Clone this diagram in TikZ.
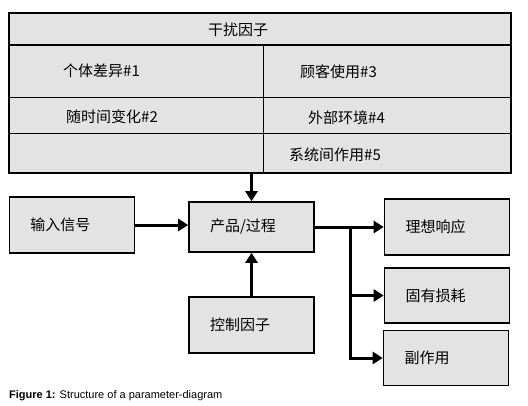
\documentclass[tikz,border=0pt]{standalone}
\usepackage{fontspec}
\setmainfont{Liberation Sans}
\newfontfamily\cjk{Noto Sans CJK SC}
\usetikzlibrary{arrows.meta,positioning,calc}

\begin{document}
\begin{tikzpicture}[x=1pt,y=-1pt,
      every node/.style={font=\cjk\fontsize{15}{17}\selectfont},
      blk/.style={draw,line width=1.6pt,fill=black!11,inner xsep=21pt,inner ysep=0pt,
        text width=83pt,align=left,minimum height=55pt},
      cell/.style={anchor=west,inner sep=0pt},
      arr/.style={-{Triangle[length=10pt,width=12pt]},line width=3pt}
    ]
      \useasboundingbox (0,0) rectangle (528,405);
      % noise factors
      \node[draw,line width=1.8pt,fill=black!11,minimum width=502pt,minimum height=160pt,inner sep=0pt] (noise) at (260,93) {};
      \draw[line width=2.4pt] (9,45) -- (511,45);
      \draw[line width=0.9pt] (263,45) -- (263,173);
      \draw[line width=0.9pt] (9,97) -- (511,97);
      \draw[line width=0.9pt] (9,133) -- (511,133);
      \node[cell] (title) at (208,30) {干扰因子};
      \node[cell] (n1) at (63,71) {个体差异\#1};
      \node[cell] (n2) at (66,117) {随时间变化\#2};
      \node[cell] (n3) at (300,72) {顾客使用\#3};
      \node[cell] (n4) at (308,118) {外部环境\#4};
      \node[cell] (n5) at (289,155) {系统间作用\#5};
      % boxes
      \node[blk,minimum height=56pt] (in) at (72,225) {输入信号};
      \node[blk,minimum height=50pt] (prod) at (251.5,227) {产品/过程};
      \node[blk,minimum height=56pt] (ctrl) at (251.5,325) {控制因子};
      \node[blk,minimum height=56pt] (ideal) at (447,227) {理想响应};
      \node[blk] (loss) at (447,295.5) {固有损耗};
      \node[blk] (side) at (446,358) {副作用};
      % arrows
      \draw[arr] (noise.south -| prod) -- (prod);
      \draw[arr] (in) -- (in -| prod.west);
      \draw[arr] (ctrl) -- (prod);
      \draw[arr] (prod) -- (ideal);
      \coordinate (br) at (350,227);
      \draw[arr] (br) |- (loss.west);
      \draw[arr] (br) |- (side.west);
      \node[anchor=west,inner sep=0pt,font=\fontsize{11}{13}\selectfont] (cap) at (9,396) {\textbf{Figure 1:} Structure of a parameter-diagram};
    \end{tikzpicture}
\end{document}
